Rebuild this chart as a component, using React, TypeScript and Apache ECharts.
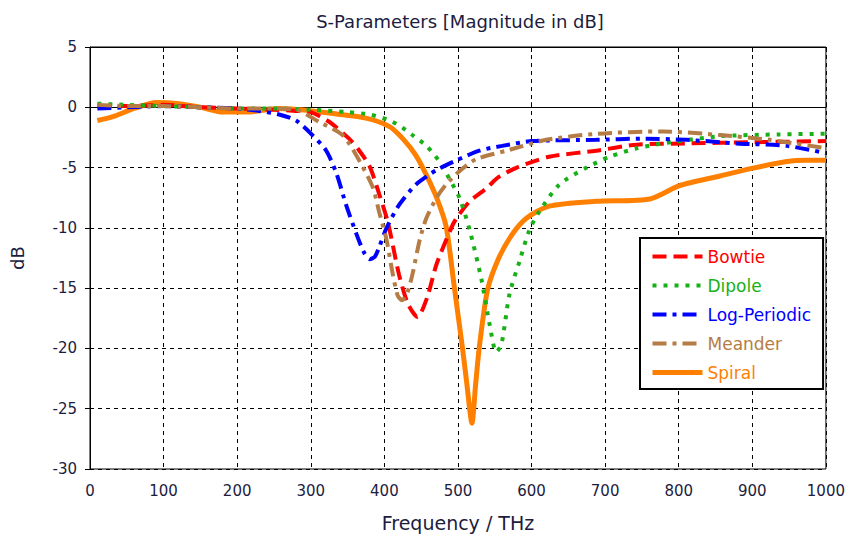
import React, { useEffect, useRef } from "react";
import * as echarts from "echarts";

const seriesNames = ["Bowtie", "Dipole", "Log-Periodic", "Meander", "Spiral"];
const seriesColors = ["#ff0000", "#17b017", "#0000ff", "#b57d45", "#ff8000"];

const xTicks = [0, 1000, 100];
const yTicks = [-30, 5, 5];

const bowtieF = [10, 50, 100, 150, 200, 250, 280, 300, 325, 352, 366, 380, 393, 405, 420, 432, 445, 458, 471, 491, 498, 516, 539, 555, 580, 624, 688, 743, 811, 900, 1000];
const bowtieDb = [0.1, 0.1, 0.2, 0.0, -0.1, -0.2, -0.3, -0.4, -1.2, -2.6, -3.6, -4.9, -7.2, -9.6, -13.9, -16.3, -17.4, -15.8, -13.0, -10.0, -9.2, -7.8, -6.7, -5.8, -5.0, -4.1, -3.6, -3.1, -3.0, -2.9, -2.8];

const dipoleF = [10, 50, 100, 150, 200, 250, 300, 350, 380, 403, 420, 438, 457, 475, 488, 502, 516, 532, 543, 552, 559, 570, 584, 597, 611, 638, 675, 706, 743, 778, 856, 937, 1000];
const dipoleDb = [0.3, 0.2, 0.1, 0.0, -0.1, -0.1, -0.2, -0.4, -0.6, -1.0, -1.5, -2.3, -3.2, -4.5, -5.9, -7.5, -10.2, -14.3, -18.0, -20.3, -19.7, -15.5, -12.7, -10.2, -8.6, -6.4, -5.0, -4.1, -3.4, -3.0, -2.4, -2.25, -2.2];

const logPeriodicF = [10, 50, 100, 150, 200, 230, 257, 280, 302, 321, 335, 348, 362, 372, 380, 387, 393, 403, 420, 443, 471, 498, 529, 560, 601, 688, 750, 811, 879, 947, 1000];
const logPeriodicDb = [-0.1, 0.0, 0.1, 0.0, -0.1, -0.3, -0.6, -1.1, -2.3, -3.6, -5.5, -8.1, -10.5, -12.0, -12.6, -12.4, -11.6, -10.0, -8.1, -6.4, -5.2, -4.4, -3.6, -3.2, -2.8, -2.7, -2.6, -2.7, -3.0, -3.2, -3.8];

const meanderF = [10, 50, 100, 150, 200, 250, 280, 311, 343, 362, 384, 393, 403, 411, 418, 424, 431, 438, 448, 457, 471, 484, 502, 525, 566, 620, 688, 778, 856, 924, 1000];
const meanderDb = [0.2, 0.1, 0.1, 0.0, -0.1, -0.1, -0.2, -1.2, -2.3, -4.0, -6.6, -8.7, -11.0, -13.7, -15.6, -16.0, -15.4, -13.9, -11.0, -9.2, -7.5, -6.4, -5.3, -4.3, -3.6, -2.7, -2.2, -2.0, -2.3, -2.7, -3.4];

const spiralF = [10, 30, 60, 90, 121, 150, 180, 212, 257, 302, 340, 375, 407, 425, 443, 457, 471, 484, 495, 506, 512, 519, 524, 529, 540, 554, 573, 593, 624, 688, 761, 801, 856, 901, 947, 975, 1000];
const spiralDb = [-1.1, -0.8, -0.1, 0.4, 0.3, 0.0, -0.4, -0.4, -0.1, -0.3, -0.6, -0.9, -1.6, -2.6, -4.0, -5.6, -7.5, -9.9, -14.9, -19.9, -22.9, -26.2, -23.0, -19.9, -15.2, -12.7, -10.6, -9.2, -8.2, -7.8, -7.6, -6.5, -5.7, -5.05, -4.5, -4.4, -4.4];

const seriesF = [bowtieF, dipoleF, logPeriodicF, meanderF, spiralF];
const seriesDb = [bowtieDb, dipoleDb, logPeriodicDb, meanderDb, spiralDb];

const dashes: (number[] | "solid")[] = [[14, 7], [4, 7], [14, 6, 4, 6], [14, 6, 4, 6], "solid"];
const widths = [4, 4, 4, 4, 5];

const textColor = "#1c1c40";
const font = "DejaVu Sans";

export default function App() {
  const ref = useRef<HTMLDivElement>(null);
  useEffect(() => {
    if (!ref.current) return;
    const chart = echarts.init(ref.current, undefined, { renderer: "svg" });
    const series = seriesNames.map((name, i) => ({
      name,
      type: "line",
      data: seriesF[i].map((f, j) => [f, seriesDb[i][j]]),
      smooth: 0.25,
      symbol: "none",
      showSymbol: false,
      z: i === 4 ? 1 : 2,
      lineStyle: { color: seriesColors[i], width: widths[i], type: dashes[i] },
      itemStyle: { color: seriesColors[i] },
    }));
    chart.setOption({
      animation: false,
      backgroundColor: "#ffffff",
      title: {
        text: "S-Parameters [Magnitude in dB]",
        left: 455,
        top: 7,
        textAlign: "center",
        textStyle: { fontFamily: font, fontSize: 18, fontWeight: "normal", color: textColor },
      },
      grid: { left: 90, right: 22, top: 47, bottom: 64, show: true, borderColor: "#000", borderWidth: 1, backgroundColor: "transparent" },
      legend: {
        orient: "vertical",
        left: 640,
        top: 238,
        backgroundColor: "#fff",
        borderColor: "#000",
        borderWidth: 2,
        borderRadius: 0,
        padding: [10, 12, 8, 10],
        itemWidth: 50,
        itemHeight: 14,
        itemGap: 12,
        itemStyle: { opacity: 0 },
        textStyle: { fontFamily: font, fontSize: 17 },
        data: seriesNames.map((n, i) => ({
          name: n,
          textStyle: { color: seriesColors[i] },
          lineStyle: { width: widths[i], color: seriesColors[i], type: dashes[i] },
        })),
      },
      xAxis: [
        {
          type: "value",
          min: xTicks[0],
          max: xTicks[1],
          interval: xTicks[2],
          name: "Frequency / THz",
          nameLocation: "middle",
          nameGap: 44,
          nameTextStyle: { fontFamily: font, fontSize: 19, color: textColor },
          axisLine: { show: true, lineStyle: { color: "#000", width: 1 } },
          axisTick: { show: true, inside: true, length: 5, lineStyle: { color: "#000" } },
          axisLabel: { fontFamily: font, fontSize: 15, color: textColor, margin: 14, formatter: (v: number) => String(v) },
          splitLine: { show: true, lineStyle: { color: "#000", width: 1, type: [4, 4] } },
        },
        {
          type: "value",
          position: "top",
          min: xTicks[0],
          max: xTicks[1],
          interval: xTicks[2],
          axisLine: { show: true, lineStyle: { color: "#000", width: 1 } },
          axisTick: { show: true, inside: true, length: 5, lineStyle: { color: "#000" } },
          axisLabel: { show: false },
          splitLine: { show: false },
        },
      ],
      yAxis: {
        type: "value",
        min: yTicks[0],
        max: yTicks[1],
        interval: yTicks[2],
        name: "dB",
        nameLocation: "middle",
        nameGap: 64,
        nameTextStyle: { fontFamily: font, fontSize: 18, color: textColor },
        axisLine: { show: true, lineStyle: { color: "#000", width: 1 } },
        axisTick: { show: true, inside: false, length: 5, lineStyle: { color: "#000" } },
        axisLabel: { fontFamily: font, fontSize: 15, color: textColor, margin: 13 },
        splitLine: { show: true, lineStyle: { color: "#000", width: 1, type: [4, 4] } },
      },
      series,
    });
    return () => chart.dispose();
  }, []);
  return <div ref={ref} style={{ position: "fixed", left: 0, top: 0, width: 848, height: 537 }} />;
}
